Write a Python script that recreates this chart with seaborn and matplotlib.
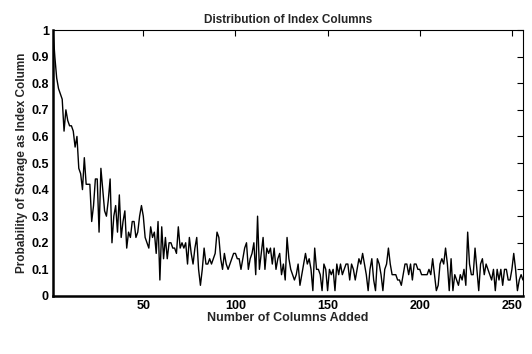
import numpy as np
import pandas as pd
import matplotlib
matplotlib.use("Agg")
import matplotlib.pyplot as plt
import seaborn as sns

# probabilities, column 1 .. 256
first_50 = [1.00, 0.90, 0.82, 0.78, 0.76, 0.74, 0.62, 0.70, 0.66, 0.64,
            0.64, 0.62, 0.56, 0.60, 0.48, 0.46, 0.40, 0.52, 0.42, 0.42,
            0.42, 0.28, 0.34, 0.44, 0.44, 0.24, 0.48, 0.40, 0.32, 0.30,
            0.36, 0.44, 0.20, 0.30, 0.34, 0.24, 0.38, 0.22, 0.28, 0.32,
            0.18, 0.24, 0.22, 0.28, 0.28, 0.22, 0.24, 0.30, 0.34, 0.30]
next_50 = [0.22, 0.20, 0.18, 0.26, 0.22, 0.24, 0.16, 0.28, 0.06, 0.26,
           0.14, 0.22, 0.14, 0.20, 0.20, 0.18, 0.18, 0.16, 0.26, 0.18,
           0.20, 0.18, 0.20, 0.12, 0.22, 0.16, 0.12, 0.18, 0.22, 0.10,
           0.04, 0.10, 0.18, 0.12, 0.12, 0.14, 0.12, 0.14, 0.16, 0.24,
           0.22, 0.14, 0.10, 0.16, 0.12, 0.10, 0.12, 0.14, 0.16, 0.16]
mid_50 = [0.14, 0.14, 0.10, 0.14, 0.18, 0.20, 0.10, 0.14, 0.16, 0.20,
          0.08, 0.30, 0.10, 0.16, 0.22, 0.10, 0.18, 0.16, 0.18, 0.12,
          0.18, 0.10, 0.14, 0.16, 0.08, 0.12, 0.06, 0.22, 0.14, 0.10,
          0.08, 0.06, 0.08, 0.12, 0.04, 0.08, 0.12, 0.16, 0.12, 0.14,
          0.10, 0.02, 0.18, 0.10, 0.10, 0.08, 0.02, 0.12, 0.10, 0.02]
late_38 = [0.10, 0.08, 0.10, 0.02, 0.12, 0.08, 0.12, 0.08, 0.10, 0.12,
           0.12, 0.06, 0.12, 0.10, 0.06, 0.10, 0.14, 0.12, 0.16, 0.12,
           0.08, 0.02, 0.10, 0.14, 0.06, 0.02, 0.14, 0.12, 0.08, 0.02,
           0.10, 0.12, 0.18, 0.12, 0.08, 0.08, 0.08, 0.06]
last_68 = [0.06, 0.04, 0.08, 0.12, 0.12, 0.08, 0.12, 0.06, 0.12, 0.12,
           0.10, 0.10, 0.08, 0.08, 0.08, 0.08, 0.10, 0.08, 0.14, 0.08,
           0.02, 0.04, 0.12, 0.14, 0.12, 0.18, 0.12, 0.02, 0.14, 0.02,
           0.08, 0.06, 0.04, 0.08, 0.06, 0.10, 0.04, 0.24, 0.12, 0.08,
           0.08, 0.18, 0.10, 0.02, 0.12, 0.14, 0.08, 0.12, 0.10, 0.08,
           0.06, 0.10, 0.02, 0.10, 0.06, 0.10, 0.04, 0.10, 0.10, 0.06,
           0.06, 0.10, 0.16, 0.10, 0.02, 0.06, 0.08, 0.06]

prob = first_50 + next_50 + mid_50 + late_38 + last_68
columns = np.arange(1, len(prob) + 1)
df = pd.DataFrame({"cols": columns, "prob": prob})

x_ticks = [50, 100, 150, 200, 250]
y_ticks = [0, 0.1, 0.2, 0.3, 0.4, 0.5, 0.6, 0.7, 0.8, 0.9, 1]
y_ticklabels = ["0", "0.1", "0.2", "0.3", "0.4", "0.5", "0.6", "0.7", "0.8", "0.9", "1"]

sns.set_theme(style="white")
plt.rcParams["font.family"] = ["Liberation Sans", "DejaVu Sans"]

fig = plt.figure(figsize=(5.32, 3.54), dpi=100)
ax = fig.add_axes([0.0996, 0.164, 0.8834, 0.751])

sns.lineplot(data=df, x="cols", y="prob", color="black", linewidth=1.0, ax=ax)

ax.set_xlim(1, len(prob))
ax.set_ylim(0, 1)
ax.set_xticks(x_ticks)
ax.set_xticklabels([str(t) for t in x_ticks], fontweight="bold", fontsize=9)
ax.set_yticks(y_ticks)
ax.set_yticklabels(y_ticklabels, fontweight="bold", fontsize=9)
ax.tick_params(direction="in", length=4, width=0.8, top=True, right=True,
               pad=3, colors="black")
for s in ax.spines.values():
    s.set_color("black")
    s.set_linewidth(0.8)
ax.spines["left"].set_linewidth(1.8)
ax.spines["bottom"].set_linewidth(1.8)

ax.set_title("Distribution of Index Columns", fontsize=8.5, fontweight="bold", pad=5)
ax.set_xlabel("Number of Columns Added", fontsize=9, fontweight="bold", labelpad=0)
ax.set_ylabel("Probability of Storage as Index Column", fontsize=8.5, fontweight="bold", labelpad=2)

fig.savefig("out.png", dpi=100, facecolor="white")
